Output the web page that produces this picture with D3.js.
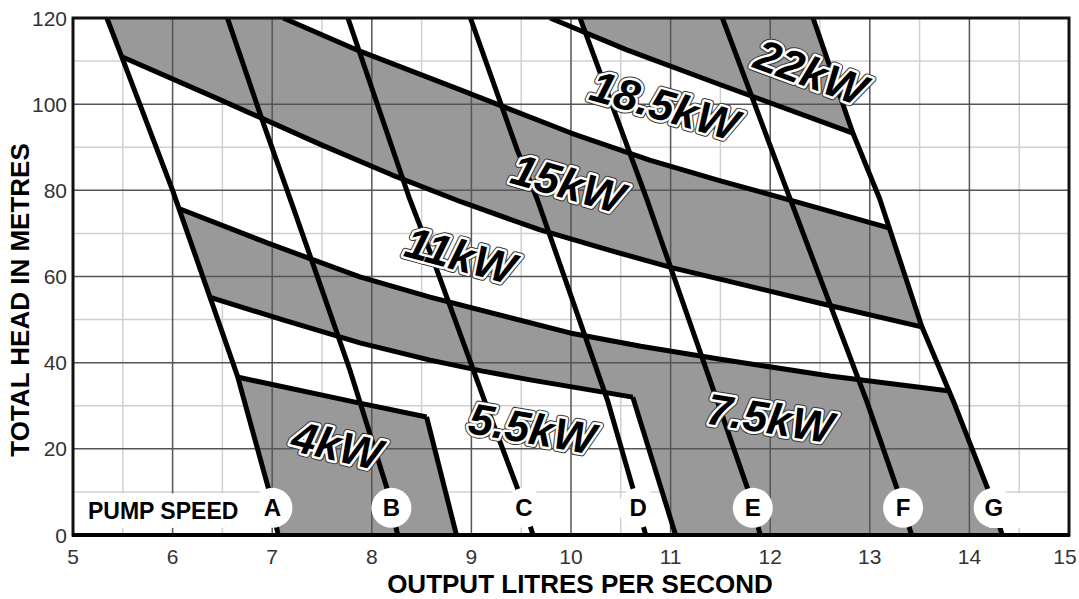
<!DOCTYPE html>
<html>
<head>
<meta charset="utf-8">
<title>Pump speed chart</title>
<script src="https://cdnjs.cloudflare.com/ajax/libs/d3/7.8.5/d3.min.js"></script>
<style>
  body { margin:0; background:#fff; }
  svg { display:block; font-family:"Liberation Sans", Arial, sans-serif; }
  .minor { stroke:#d0d0d0; stroke-width:1.5px; }
  .major { stroke:#555; stroke-width:1.5px; }
  .heavy { fill:none; stroke:#000; stroke-width:5px; stroke-linejoin:round; }
  .zone { fill:#999; stroke:none; }
  .ticklab { font-size:21px; fill:#333; }
  .title { font-size:26px; font-weight:bold; fill:#000; }
  .kw { font-size:44px; font-weight:bold; font-style:italic; }
</style>
</head>
<body>
<svg width="1079" height="599"></svg>
<script>
// ---- axis ticks
var xTicks = [5,6,7,8,9,10,11,12,13,14,15];
var xMinor = [5.5,6.5,7.5,8.5,9.5,10.5,11.5,12.5,13.5,14.5];
var yTicks = [0,20,40,60,80,100,120];
var yMinor = [10,30,50,70,90,110];

// ---- pump speed lines [litres/s, head m]
var speedNames = ["A","B","C","D","E","F","G"];
var speedA = [[5.34,120],[5.49,111],[6.0,80],[6.375,55.2],[6.65,37],[6.96,11],[7.06,0]];
var speedB = [[6.55,120],[6.90,96.3],[7.22,75.4],[7.50,56.9],[7.78,38.3],[8.15,11],[8.26,0]];
var speedC = [[7.76,120],[8.38,78],[8.63,63],[9.13,31.3],[9.46,11],[9.62,0]];
var speedD = [[8.99,120],[9.46,89.4],[9.66,78],[10.37,31],[10.62,11],[10.75,0]];
var speedE = [[10.09,120],[10.76,78],[11.47,31],[11.77,11],[11.9,0]];
var speedF = [[11.52,120],[12.2,78],[12.97,31],[13.27,11],[13.42,0]];
var speedG = [[12.43,120],[12.83,93.3],[13.1,78],[13.52,48.5],[13.84,31],[14.18,11],[14.33,0]];
var speeds = [speedA,speedB,speedC,speedD,speedE,speedF,speedG];

// ---- power boundaries
var curve22to18 = [[9.79,120],[10.56,112.6],[11.5,104.5],[12.83,93.3]];
var curve18to15 = [[7.11,120],[7.88,112.3],[8.89,103.3],[10.0,93.3],[10.79,87.0],[11.5,82.2],[12.3,77.1],[13.19,71.3]];
var curve15to11 = [[5.49,111],[6.48,101],[7.5,90.5],[8.2,83.6],[8.9,77.3],[9.69,70.8],[10.4,66.0],[11.02,62.0],[11.6,58.8],[12.5,53.8],[13.52,48.3]];
var curve11to75 = [[6.05,75.9],[6.95,67.8],[7.88,59.9],[8.585,55.2],[9.99,46.9],[10.7,43.8],[11.5,40.8],[12.6,36.9],[13.8,33.4]];
var curve75to55 = [[6.37,55.2],[7.1,50.0],[7.88,44.6],[8.585,40.6],[9.1,38.1],[9.59,36.0],[10.62,32.0]];
var curve55to4  = [[6.66,36.6],[7.88,30.6],[8.55,27.4]];
var edge4  = [[8.55,27.4],[8.85,0]];
var edge55 = [[10.62,32.0],[11.05,0]];

var kwLabels = ["22kW","18.5kW","15kW","11kW","7.5kW","5.5kW","4kW"];

// label placement (data units) and tilt
var kwLayout = [
  {x:12.41, y:107.5, a:20},
  {x:10.94, y:99.8, a:16},
  {x:9.97, y:81.7, a:16},
  {x:8.89, y:65.0, a:15},
  {x:12.0, y:27.2, a:9},
  {x:9.61, y:24.8, a:10},
  {x:7.65, y:20.9, a:13}
];

var svg = d3.select("svg");
var x = d3.scaleLinear().domain([5,15]).range([73,1069]);
var y = d3.scaleLinear().domain([0,120]).range([535,18]);
var line = d3.line().x(d=>x(d[0])).y(d=>y(d[1]));

function xAt(l, h) {
  for (var i=0;i<l.length-1;i++) {
    var p=l[i], q=l[i+1];
    if ((p[1]-h)*(q[1]-h) <= 0) {
      var t=(h-p[1])/(q[1]-p[1]);
      return p[0]+t*(q[0]-p[0]);
    }
  }
  return l[l.length-1][0];
}
// vertices of a speed line running from head h0 to head h1
function part(l, h0, h1) {
  var lo=Math.min(h0,h1), hi=Math.max(h0,h1);
  var inner=l.filter(p=>p[1]>lo && p[1]<hi);
  inner.sort((a,b)=> h0>h1 ? b[1]-a[1] : a[1]-b[1]);
  return [[xAt(l,h0),h0]].concat(inner,[[xAt(l,h1),h1]]);
}
function rev(c) { return c.slice().reverse(); }
function first(c) { return c[0]; }
function last(c) { return c[c.length-1]; }
function cross(a, b) {
  for (var i=0;i<a.length-1;i++) for (var j=0;j<b.length-1;j++) {
    var p=a[i], r=[a[i+1][0]-p[0], a[i+1][1]-p[1]];
    var q=b[j], s=[b[j+1][0]-q[0], b[j+1][1]-q[1]];
    var den=r[0]*s[1]-r[1]*s[0];
    if (den===0) continue;
    var t=((q[0]-p[0])*s[1]-(q[1]-p[1])*s[0])/den;
    var u=((q[0]-p[0])*r[1]-(q[1]-p[1])*r[0])/den;
    if (t>=0 && t<=1 && u>=0 && u<=1) return {i:i, pt:[p[0]+t*r[0], p[1]+t*r[1]]};
  }
  return null;
}

// ---- grey zones
var zone4 = [].concat(curve55to4, edge4, part(speedA, 0, first(curve55to4)[1]));
var zone75 = [].concat(curve11to75, part(speedG, last(curve11to75)[1], 0),
  rev(edge55), rev(curve75to55), part(speedA, first(curve75to55)[1], first(curve11to75)[1]));
var zone15 = [].concat([[xAt(speedA,120),120]], curve18to15,
  part(speedG, last(curve18to15)[1], last(curve15to11)[1]), rev(curve15to11),
  part(speedA, first(curve15to11)[1], 120));
var k = cross(curve22to18, speedE);
var zone22 = [].concat([[xAt(speedE,120),120]], part(speedG, 120, last(curve22to18)[1]),
  rev(curve22to18.slice(k.i+1)), [k.pt], part(speedE, k.pt[1], 120));

svg.append("defs").append("clipPath").attr("id","plot")
  .append("rect").attr("x",x(5)).attr("y",y(120)).attr("width",x(15)-x(5)).attr("height",y(0)-y(120));

var plot = svg.append("g").attr("clip-path","url(#plot)");

// minor grid under the grey
plot.selectAll(".mx").data(xMinor).enter().append("line").attr("class","minor")
  .attr("x1",d=>x(d)).attr("x2",d=>x(d)).attr("y1",y(0)).attr("y2",y(120));
plot.selectAll(".my").data(yMinor).enter().append("line").attr("class","minor")
  .attr("y1",d=>y(d)).attr("y2",d=>y(d)).attr("x1",x(5)).attr("x2",x(15));

plot.selectAll(".zone").data([zone4,zone75,zone15,zone22]).enter().append("path")
  .attr("class","zone").attr("d",d=>line(d)+"Z");

// major grid
plot.selectAll(".gx").data(xTicks).enter().append("line").attr("class","major")
  .attr("x1",d=>x(d)).attr("x2",d=>x(d)).attr("y1",y(0)).attr("y2",y(120));
plot.selectAll(".gy").data(yTicks).enter().append("line").attr("class","major")
  .attr("y1",d=>y(d)).attr("y2",d=>y(d)).attr("x1",x(5)).attr("x2",x(15));

// heavy lines
var heavy = speeds.concat([curve22to18,curve18to15,curve15to11,curve11to75,curve75to55,curve55to4,edge4,edge55]);
plot.selectAll(".heavy").data(heavy).enter().append("path").attr("class","heavy").attr("d",line);

// pump speed strip
var stripTop = y(10)+1.5, stripBot = 528;
plot.append("rect").attr("x",x(5)+1).attr("y",stripTop).attr("width",x(6.93)-x(5)).attr("height",stripBot-stripTop).attr("fill","#fff");
plot.append("rect").attr("x",x(14.2)).attr("y",stripTop).attr("width",x(15)-x(14.2)).attr("height",stripBot-stripTop).attr("fill","#fff");
svg.append("text").attr("class","title").attr("x",x(5.15)).attr("y",511)
  .attr("dominant-baseline","central").style("font-size","23px").text("PUMP SPEED");

var lab = svg.selectAll(".sp").data(speeds).enter().append("g")
  .attr("transform",d=>"translate("+x(xAt(d,6.3))+","+y(6.3)+")");
lab.append("circle").attr("r",20).attr("fill","#fff");
lab.append("text").attr("class","title").attr("text-anchor","middle").attr("dy","0.36em")
  .style("font-size","24px").text((d,i)=>speedNames[i]);

// frame
svg.append("rect").attr("x",x(5)).attr("y",y(120)).attr("width",x(15)-x(5)).attr("height",y(0)-y(120))
  .attr("fill","none").attr("stroke","#111").attr("stroke-width",3);
svg.append("line").attr("x1",x(5)-1).attr("x2",x(15)+1).attr("y1",y(0)).attr("y2",y(0))
  .attr("stroke","#000").attr("stroke-width",4);

// power labels with halo
var kw = svg.selectAll(".kwl").data(kwLabels).enter().append("g")
  .attr("transform",(d,i)=>"translate("+x(kwLayout[i].x)+","+y(kwLayout[i].y)+") rotate("+kwLayout[i].a+")");
[["#333",7],["#fff",5]].forEach(function(s){
  kw.append("text").attr("class","kw").attr("text-anchor","middle").attr("dy","0.36em")
    .attr("fill","none").attr("stroke",s[0]).attr("stroke-width",s[1]).attr("stroke-linejoin","round").text(d=>d);
});
kw.append("text").attr("class","kw").attr("text-anchor","middle").attr("dy","0.36em").attr("fill","#000").text(d=>d);

// tick labels (last one nudged so it stays inside the page)
svg.selectAll(".xl").data(xTicks).enter().append("text").attr("class","ticklab")
  .attr("x",d=>x(d)).attr("dx",(d,i)=>i===xTicks.length-1?-4:0).attr("y",564)
  .attr("text-anchor","middle").text(d=>d);
svg.selectAll(".yl").data(yTicks).enter().append("text").attr("class","ticklab")
  .attr("x",67).attr("y",d=>y(d)+7.5).attr("text-anchor","end").text(d=>d);

// axis titles
svg.append("text").attr("class","title").attr("x",580).attr("y",584)
  .attr("text-anchor","middle").attr("dominant-baseline","central").text("OUTPUT LITRES PER SECOND");
svg.append("text").attr("class","title").attr("transform","translate(20,300) rotate(-90)")
  .attr("text-anchor","middle").attr("dominant-baseline","central").text("TOTAL HEAD IN METRES");
</script>
</body>
</html>
